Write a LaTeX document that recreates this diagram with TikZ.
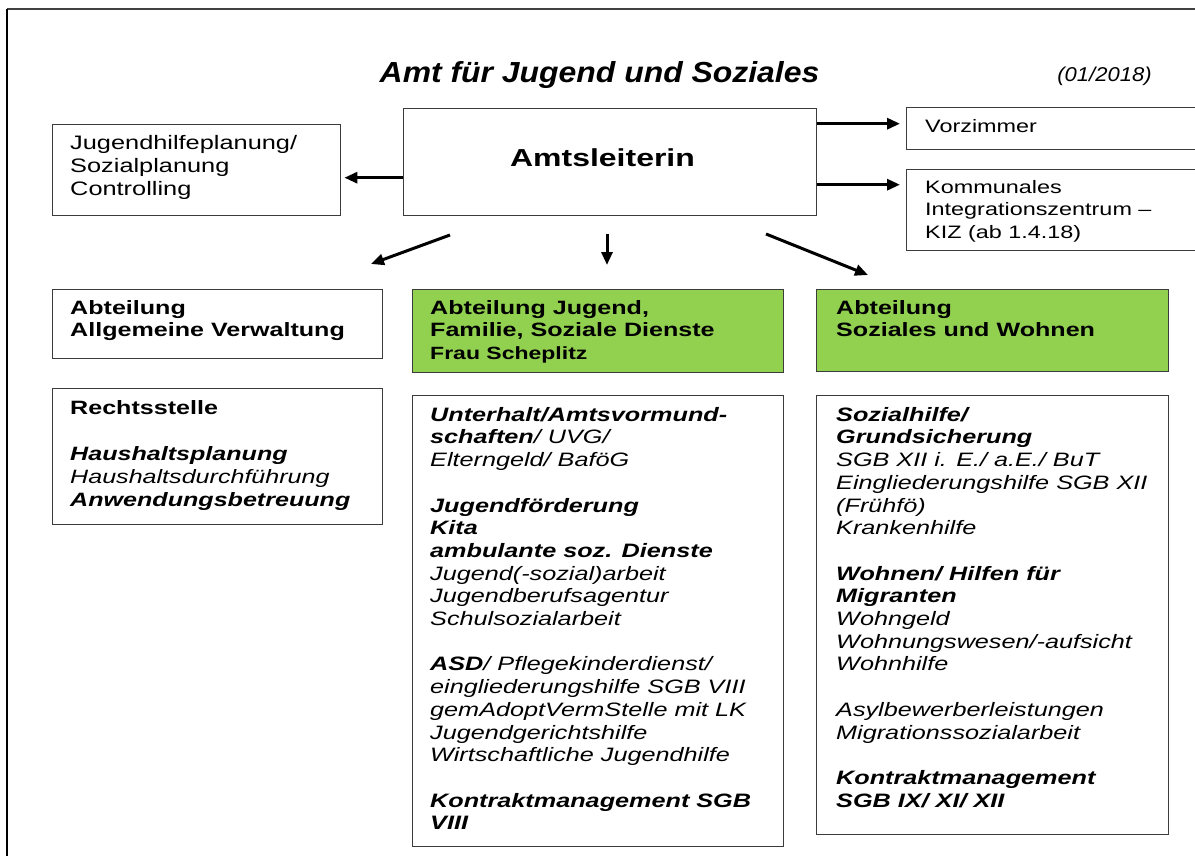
\documentclass[tikz,border=0pt]{standalone}
\usepackage{fontspec}
\setmainfont{Liberation Sans}[FakeStretch=1.3]
\newfontfamily\titlefont{Liberation Sans}[FakeStretch=1.1]
\usetikzlibrary{arrows.meta}
\definecolor{grn}{HTML}{92D050}
\definecolor{bord}{HTML}{3C3C3C}
\newcommand\bitx[1]{\textbf{\textit{#1}}}
\tikzset{
  box/.style={draw=bord, line width=1.4pt, inner sep=0pt, anchor=north west, rectangle},
  gbox/.style={box, fill=grn},
  txt/.style={anchor=north west, inner sep=0pt, align=left, font=\fontsize{19.4}{22.7}\selectfont},
  smalltxt/.style={txt, font=\fontsize{18}{22.5}\selectfont},
  arr/.style={line width=3pt, -{Triangle[length=13pt,width=11pt]}}
}
\begin{document}
\begin{tikzpicture}[x=1pt,y=-1pt]
\useasboundingbox[fill=white] (0,0) rectangle (1195,856);
\clip (0,0) rectangle (1195,856);
% frame
\draw[line width=2pt, draw=black!75] (7,9) -- (1196,9);
\draw[line width=2.5pt] (7,9) -- (7,857);

% title
\node[anchor=base, inner sep=0pt, font=\titlefont\bfseries\itshape\fontsize{29}{32}\selectfont] (title) at (599.5,83) {Amt für Jugend und Soziales};
\node[anchor=base, inner sep=0pt, font=\titlefont\itshape\fontsize{20}{24}\selectfont] (date) at (1104.5,82) {(01/2018)};

% boxes
\node[box, minimum width=288pt, minimum height=91pt] (plan) at (52,124) {};
\node[box, minimum width=413pt, minimum height=107pt] (leit) at (403,108) {};
\node[box, minimum width=292pt, minimum height=42pt] (vor) at (906,107) {};
\node[box, minimum width=292pt, minimum height=81pt] (kiz) at (906,169) {};
\node[box, minimum width=330pt, minimum height=69pt] (aav) at (52,289) {};
\node[gbox, minimum width=371pt, minimum height=83pt] (ajf) at (412,289) {};
\node[gbox, minimum width=352pt, minimum height=82pt] (asw) at (816,289) {};
\node[box, minimum width=330pt, minimum height=136pt] (recht) at (52,388) {};
\node[box, minimum width=371pt, minimum height=451pt] (jf) at (412,395) {};
\node[box, minimum width=352pt, minimum height=439pt] (sw) at (816,395) {};

% texts
\node[txt, font=\fontsize{19.5}{23}\selectfont] (plant) at (70,135) {Jugendhilfeplanung/\\Sozialplanung\\Controlling};
\node[anchor=base, inner sep=0pt, font=\bfseries\fontsize{24.6}{28}\selectfont] (leitt) at (602.5,167) {Amtsleiterin};
\node[smalltxt] (vort) at (925,119) {Vorzimmer};
\node[smalltxt] (kizt) at (925,180) {Kommunales\\Integrationszentrum --\\KIZ (ab 1.4.18)};
\node[txt, font=\bfseries\fontsize{19.3}{22.7}\selectfont] (aavt) at (70,300) {Abteilung\\Allgemeine Verwaltung};
\node[txt, font=\bfseries\fontsize{19.3}{22.7}\selectfont] (ajft) at (430,300) {Abteilung Jugend,\\Familie, Soziale Dienste\\{\fontsize{17.7}{20}\selectfont Frau Scheplitz}};
\node[txt, font=\bfseries\fontsize{19.3}{22.7}\selectfont] (aswt) at (836,300) {Abteilung\\Soziales und Wohnen};
\node[txt, font=\fontsize{19.3}{23}\selectfont] (rechtt) at (70,400) {\textbf{Rechtsstelle}\\[23pt]
\bitx{Haushaltsplanung}\\
\textit{Haushaltsdurchführung}\\
\bitx{Anwendungsbetreuung}};
\node[txt] (jft) at (430,407) {\bitx{Unterhalt/Amtsvormund-}\\
\bitx{schaften}\textit{/ UVG/}\\
\textit{Elterngeld/ BaföG}\\[22.7pt]
\bitx{Jugendförderung}\\
\bitx{Kita}\\
\bitx{ambulante soz. Dienste}\\
\textit{Jugend(-sozial)arbeit}\\
\textit{Jugendberufsagentur}\\
\textit{Schulsozialarbeit}\\[22.7pt]
\bitx{ASD}\textit{/ Pflegekinderdienst/}\\
\textit{eingliederungshilfe SGB VIII}\\
\textit{gemAdoptVermStelle mit LK}\\
\textit{Jugendgerichtshilfe}\\
\textit{Wirtschaftliche Jugendhilfe}\\[22.7pt]
\bitx{Kontraktmanagement SGB}\\
\bitx{VIII}};
\node[txt] (swt) at (836,407) {\bitx{Sozialhilfe/}\\
\bitx{Grundsicherung}\\
\textit{SGB XII i. E./ a.E./ BuT}\\
\textit{Eingliederungshilfe SGB XII}\\
\textit{(Frühfö)}\\
\textit{Krankenhilfe}\\[22.7pt]
\bitx{Wohnen/ Hilfen für}\\
\bitx{Migranten}\\
\textit{Wohngeld}\\
\textit{Wohnungswesen/-aufsicht}\\
\textit{Wohnhilfe}\\[22.7pt]
\textit{Asylbewerberleistungen}\\
\textit{Migrationssozialarbeit}\\[22.7pt]
\bitx{Kontraktmanagement}\\
\bitx{SGB IX/ XI/ XII}};

% arrows
\draw[arr, shorten >=3pt] ([yshift=-15.5pt]leit.west) -- ([yshift=-15.5pt]leit.west -| plan.east);
\draw[arr, shorten >=6pt] ([yshift=5pt]vor.west -| leit.east) -- ([yshift=5pt]vor.west);
\draw[arr, shorten >=6pt] ([yshift=-22.5pt]leit.east) -- ([yshift=-22.5pt]leit.east -| kiz.west);
\coordinate (d1s) at (450,235);
\coordinate (d1e) at (371,264);
\coordinate (d2s) at (607,234);
\coordinate (d2e) at (607,265);
\coordinate (d3s) at (766,234);
\coordinate (d3e) at (868,275);
\draw[arr] (d1s) -- (d1e);
\draw[arr] (d2s) -- (d2e);
\draw[arr] (d3s) -- (d3e);
\end{tikzpicture}
\end{document}
